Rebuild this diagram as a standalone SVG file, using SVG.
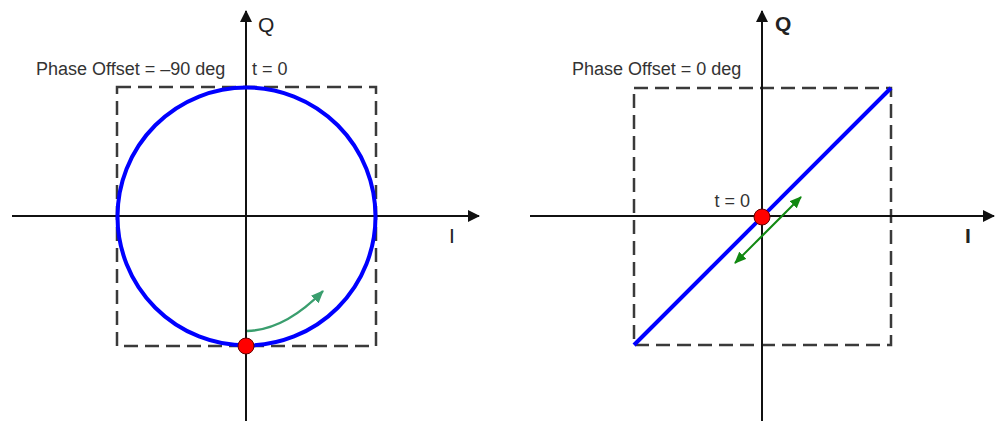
<svg xmlns="http://www.w3.org/2000/svg" width="995" height="421" viewBox="0 0 995 421">
<style>
.axis{stroke:#111;stroke-width:2;fill:none}
.box{stroke:#3a3a3a;stroke-width:2.5;fill:none;stroke-dasharray:14 7}
.sig{stroke:#0000ff;stroke-width:4;fill:none}
.dot{fill:#ff0000;stroke:#660000;stroke-width:1}
.lbl{font-family:"Liberation Sans",Arial,sans-serif;font-size:18px;fill:#333}
.ax{font-family:"Liberation Sans",Arial,sans-serif;font-size:21px;fill:#222}
.bold{font-weight:bold}
</style>
<defs>
<marker id="ah" viewBox="0 0 12 12" refX="11" refY="6" markerWidth="12" markerHeight="12" markerUnits="userSpaceOnUse" orient="auto">
<path d="M0,0 L12,6 L0,12 z" fill="#111"/>
</marker>
<marker id="gh1" viewBox="0 0 12 10" refX="11" refY="5" markerWidth="13" markerHeight="11" markerUnits="userSpaceOnUse" orient="auto">
<path d="M0,0 L12,5 L0,10 z" fill="#3a9e6e"/>
</marker>
<marker id="gh2" viewBox="0 0 12 10" refX="11" refY="5" markerWidth="12" markerHeight="10" markerUnits="userSpaceOnUse" orient="auto-start-reverse">
<path d="M0,0 L12,5 L0,10 z" fill="#118811"/>
</marker>
</defs>
<g id="left">
<rect class="box" x="117" y="87" width="259" height="259"/>
<line class="axis" x1="12" y1="216" x2="479" y2="216" marker-end="url(#ah)"/>
<line class="axis" x1="246" y1="421" x2="246" y2="11" marker-end="url(#ah)"/>
<circle class="sig" cx="246.5" cy="216.5" r="129"/>
<path d="M247,331 Q285,330 323,291" stroke="#3a9e6e" stroke-width="2.5" fill="none" marker-end="url(#gh1)"/>
<circle class="dot" cx="246" cy="346" r="8"/>
<text class="lbl" x="36" y="75">Phase Offset = –90 deg</text>
<text class="lbl" x="252" y="75">t = 0</text>
<text class="ax" x="258" y="32">Q</text>
<text class="ax" x="449" y="243">I</text>
</g>
<g id="right">
<rect class="box" x="634" y="88" width="257" height="257"/>
<line class="axis" x1="530" y1="216" x2="994" y2="216" marker-end="url(#ah)"/>
<line class="axis" x1="762" y1="421" x2="762" y2="11" marker-end="url(#ah)"/>
<line class="sig" x1="634" y1="345" x2="891" y2="88"/>
<line x1="735" y1="263" x2="801" y2="197" stroke="#118811" stroke-width="2" marker-start="url(#gh2)" marker-end="url(#gh2)"/>
<circle class="dot" cx="762" cy="217" r="8"/>
<text class="lbl" x="572" y="75">Phase Offset = 0 deg</text>
<text class="lbl" x="750" y="207" text-anchor="end">t = 0</text>
<text class="ax bold" x="775" y="31">Q</text>
<text class="ax bold" x="965" y="243">I</text>
</g>
</svg>
